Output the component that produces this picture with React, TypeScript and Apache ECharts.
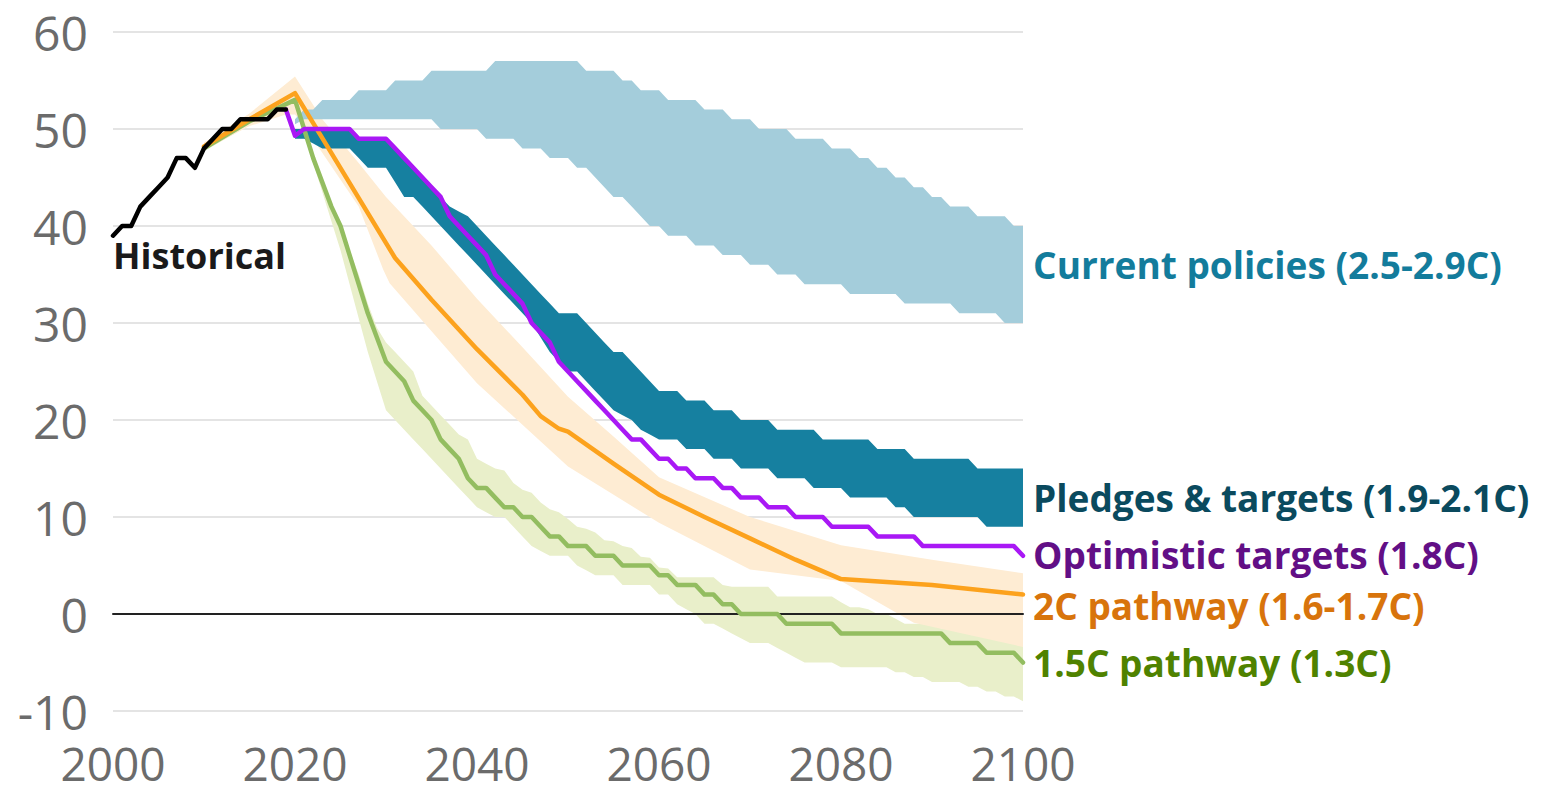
import React, { useEffect, useRef } from "react";
import * as echarts from "echarts";

// ---------- DATA ----------
const xTicks = [2000, 2020, 2040, 2060, 2080, 2100];
const yTicks = [-10, 0, 10, 20, 30, 40, 50, 60];

const historical: number[][] = [
  [2000, 39], [2001, 40], [2002, 40], [2003, 42], [2004, 43], [2005, 44], [2006, 45],
  [2007, 47], [2008, 47], [2009, 46], [2010, 48], [2011, 49], [2012, 50], [2013, 50],
  [2014, 51], [2015, 51], [2016, 51], [2017, 51], [2018, 52], [2019, 52],
];

// yearly values from 2020 to 2100
const bandStartYear = 2020;
const currentUpper = [
  51, 52, 52, 53, 53, 53, 53, 54, 54, 54, 54,
  55, 55, 55, 55, 56, 56, 56, 56, 56, 56,
  56, 57, 57, 57, 57, 57, 57, 57, 57, 57,
  57, 56, 56, 56, 56, 55, 55, 54, 54, 54,
  53, 53, 53, 53, 52, 52, 52, 51, 51, 51,
  50, 50, 50, 50, 49, 49, 49, 49, 48, 48,
  48, 47, 47, 46, 46, 45, 45, 44, 44, 43,
  43, 42, 42, 42, 41, 41, 41, 41, 40, 40,
];
const currentLower = [
  50.5, 51, 51, 51, 51, 51, 51, 51, 51, 51, 51,
  51, 51, 51, 51, 51, 50, 50, 50, 50, 50,
  49, 49, 49, 49, 48, 48, 48, 47, 47, 47,
  46, 46, 45, 44, 43, 43, 42, 41, 40, 40,
  39, 39, 39, 38, 38, 38, 37, 37, 37, 36,
  36, 36, 35, 35, 35, 34, 34, 34, 34, 34,
  33, 33, 33, 33, 33, 33, 32, 32, 32, 32,
  32, 32, 31, 31, 31, 31, 31, 30, 30, 30,
];
const pledgesUpper = [
  50, 50, 50, 50, 50, 50, 50, 49, 49, 49, 49,
  48, 47, 46, 45, 44, 43, 42, 41.5, 41, 40,
  39, 38, 37, 36, 35, 34, 33, 32, 31, 31,
  31, 30, 29, 28, 27, 27, 26, 25, 24, 23,
  23, 23, 22, 22, 22, 21, 21, 21, 20, 20,
  20, 20, 19, 19, 19, 19, 19, 18, 18, 18,
  18, 18, 18, 17, 17, 17, 17, 16, 16, 16,
  16, 16, 16, 16, 15, 15, 15, 15, 15, 15,
];
const pledgesLower = [
  49, 49, 48.5, 48, 48, 48, 48, 47, 46, 46, 46,
  44.5, 43, 43, 42, 41, 40, 39, 38, 37, 36,
  35, 34, 33, 32, 31, 30, 28.5, 27, 26, 25,
  25, 24, 23, 22, 21, 20.5, 20, 19, 18.5, 18,
  18, 18, 17, 17, 17, 16, 16, 16, 15, 15,
  15, 15, 14, 14, 14, 14, 13, 13, 13, 13,
  12, 12, 12, 12, 12, 11, 11, 10, 10, 10,
  10, 10, 10, 10, 10, 9, 9, 9, 9, 9,
];
const optimisticStartYear = 2019;
const optimistic = [
  52, 49.3, 50, 50, 50, 50, 50, 50, 49, 49, 49, 49,
  48, 47, 46, 45, 44, 43, 41, 40, 39, 38,
  37, 35, 34, 33, 32, 30, 29, 28, 26, 25,
  24, 23, 22, 21, 20, 19, 18, 18, 17, 16,
  16, 15, 15, 14, 14, 14, 13, 13, 12, 12,
  12, 11, 11, 11, 10, 10, 10, 10, 9, 9,
  9, 9, 9, 8, 8, 8, 8, 8, 7, 7,
  7, 7, 7, 7, 7, 7, 7, 7, 7, 6,
];
const pathway2C: number[][] = [
  [2010, 48.2], [2015, 51], [2020, 53.7], [2031, 36.7], [2035, 32.4], [2040, 27.3],
  [2045, 22.6], [2047, 20.4], [2049, 19.1], [2050, 18.8], [2055, 15.5], [2060, 12.3],
  [2065, 10], [2070, 7.8], [2075, 5.6], [2080, 3.6], [2090, 3.0], [2100, 2.0],
];
const pathway2CUpper: number[][] = [
  [2010, 48.6], [2015, 51.6], [2020, 55.4], [2023, 51], [2027, 46.5], [2030, 43],
  [2035, 38], [2040, 32.5], [2045, 27.5], [2050, 22.4], [2055, 18.3], [2060, 14.1],
  [2070, 10], [2080, 7.1], [2090, 5.6], [2100, 4.2],
];
const pathway2CLower: number[][] = [
  [2010, 47.8], [2015, 50.3], [2019, 51.5], [2020, 51.5], [2021, 50.3], [2027, 42],
  [2029.7, 35.5], [2030.4, 34.1], [2040, 23.8], [2050, 15.2], [2060, 9.4], [2070, 4.6],
  [2080, 3.4], [2088, -0.9], [2100, -3.4],
];
const pathway15Early: number[][] = [[2010, 48], [2015, 50.8]];
const pathway15 = [
  53, 50, 47, 44.5, 42, 40, 37, 34, 31, 28.5, 26,
  25, 24, 22, 21, 20, 18, 17, 16, 14, 13,
  13, 12, 11, 11, 10, 10, 9, 8, 8, 7,
  7, 7, 6, 6, 6, 5, 5, 5, 5, 4,
  4, 3, 3, 3, 2, 2, 1, 1, 0, 0,
  0, 0, 0, -1, -1, -1, -1, -1, -1, -2,
  -2, -2, -2, -2, -2, -2, -2, -2, -2, -2,
  -2, -3, -3, -3, -3, -4, -4, -4, -4, -5,
];
const pathway15UpperEarly: number[][] = [[2010, 48.4], [2015, 51.3]];
const pathway15Upper = [
  53.8, 50.5, 47.5, 45, 42.5, 40, 37.5, 35, 32, 29.5, 28,
  27, 26, 25, 22.5, 21.5, 20.5, 19.5, 18.5, 18, 16,
  15.5, 15, 14.8, 13.5, 12.8, 12.5, 11.5, 10.8, 10.5, 9.8,
  9, 8.8, 8.4, 7.6, 7.5, 7, 6.8, 5.9, 5.8, 4.8,
  4.7, 3.8, 3.8, 3.8, 3.8, 3.8, 3, 2.8, 2.8, 2.8,
  2.8, 2.8, 1.8, 1.8, 1.8, 1.8, 1.8, 1.8, 1.8, 1.2,
  0.7, 0.7, 0.5, 0, 0, -0.5, -1, -1, -1, -1,
  -1.5, -1.5, -1.5, -2, -2, -2, -2, -2.5, -2.5, -3,
];
const pathway15LowerEarly: number[][] = [[2010, 47.7], [2015, 50.4]];
const pathway15Lower = [
  52.5, 49.5, 46.5, 43.5, 40.5, 37.5, 34, 30.5, 27, 24, 21,
  20, 19, 18, 17, 16, 15, 14, 13, 12, 11,
  10.5, 10, 10, 9, 8, 7, 6.5, 6, 6, 6,
  5, 4.5, 4, 4, 4, 3, 3, 3, 3, 2,
  2, 1, 0.5, 0, -1, -1, -1.5, -2, -2.5, -3,
  -3, -3, -3.5, -4, -4.5, -5, -5, -5, -5, -5.5,
  -5.5, -5.5, -5.5, -5.5, -5.5, -6, -6, -6.5, -6.5, -7,
  -7, -7, -7, -7.5, -7.5, -8, -8, -8.5, -8.5, -9,
];

const seriesLabels = [
  { name: "Current policies (2.5-2.9C)", value: [2100, 36], color: "#137c9c" },
  { name: "Pledges & targets (1.9-2.1C)", value: [2100, 12], color: "#0a4a5e" },
  { name: "Optimistic targets (1.8C)", value: [2100, 6.1], color: "#620f86" },
  { name: "2C pathway (1.6-1.7C)", value: [2100, 0.9], color: "#d8740c" },
  { name: "1.5C pathway (1.3C)", value: [2100, -5], color: "#4f8200" },
];
const historicalLabel = { name: "Historical", value: [2000, 37], color: "#1a1a1a" };

// ---------- helpers ----------
const yearly = (start: number, vals: number[]) => vals.map((v, i) => [start + i, v]);

const FONT = "'Open Sans', 'Noto Sans', sans-serif";

function bandSeries(name: string, upper: number[][], lower: number[][], fill: string, z: number) {
  return {
    name,
    type: "custom",
    z,
    silent: true,
    clip: false,
    data: [[2050, 0]],
    encode: { x: 0, y: 1 },
    renderItem: (_params: any, api: any) => {
      const pts = upper
        .map((d) => api.coord(d))
        .concat(lower.slice().reverse().map((d) => api.coord(d)));
      return { type: "polygon", shape: { points: pts }, style: { fill } };
    },
  };
}

function lineSeries(name: string, data: number[][], color: string, width: number, z: number) {
  return {
    name,
    type: "line",
    z,
    data,
    symbol: "none",
    silent: true,
    lineStyle: { color, width, join: "round", cap: "round" },
  };
}

export default function App() {
  const ref = useRef<HTMLDivElement>(null);
  useEffect(() => {
    if (!ref.current) return;
    const chart = echarts.init(ref.current, undefined, { renderer: "svg" });

    const curU = yearly(bandStartYear, currentUpper);
    const curL = yearly(bandStartYear, currentLower);
    const plU = yearly(bandStartYear, pledgesUpper);
    const plL = yearly(bandStartYear, pledgesLower);
    const g15 = pathway15Early.concat(yearly(bandStartYear, pathway15));
    const g15U = pathway15UpperEarly.concat(yearly(bandStartYear, pathway15Upper));
    const g15L = pathway15LowerEarly.concat(yearly(bandStartYear, pathway15Lower));
    const opt = yearly(optimisticStartYear, optimistic);

    const labelData: any[] = seriesLabels.map((l) => ({
      name: l.name,
      value: l.value,
      label: { color: l.color },
    }));
    labelData.push({
      name: historicalLabel.name,
      value: historicalLabel.value,
      label: { color: historicalLabel.color, distance: 0, fontSize: 36 },
    });

    chart.setOption({
      animation: false,
      textStyle: { fontFamily: FONT },
      grid: { left: 113, right: 519, top: 32, bottom: 84 },
      xAxis: {
        type: "value",
        min: xTicks[0],
        max: xTicks[xTicks.length - 1],
        interval: 20,
        axisLine: { show: false },
        axisTick: { show: false },
        splitLine: { show: false },
        axisLabel: {
          fontSize: 46,
          color: "#6b6b6b",
          margin: 29,
          fontFamily: FONT,
          formatter: (v: number) => String(v),
        },
      },
      yAxis: {
        type: "value",
        min: yTicks[0],
        max: yTicks[yTicks.length - 1],
        interval: 10,
        axisLine: { show: false },
        axisTick: { show: false },
        splitLine: { lineStyle: { color: "#e4e4e4", width: 2 } },
        axisLabel: { fontSize: 48, color: "#6b6b6b", margin: 25, fontFamily: FONT },
      },
      series: [
        bandSeries("1.5C range", g15U, g15L, "#e9efca", 1),
        bandSeries("2C range", pathway2CUpper, pathway2CLower, "#feecd3", 2),
        bandSeries("Current policies", curU, curL, "#a4cddb", 3),
        bandSeries("Pledges & targets", plU, plL, "#1680a0", 4),
        lineSeries("zero", [[2000, 0], [2100, 0]], "#222222", 2, 5),
        lineSeries("1.5C pathway", g15, "#93bd60", 4.5, 6),
        lineSeries("2C pathway", pathway2C, "#fca21d", 4.5, 7),
        lineSeries("Optimistic targets", opt, "#a918f5", 4.5, 8),
        lineSeries("Historical", historical, "#000000", 4.5, 9),
        {
          name: "labels",
          type: "scatter",
          z: 10,
          silent: true,
          symbolSize: 0.1,
          itemStyle: { color: "#ffffff", opacity: 1 },
          label: {
            show: true,
            position: "right",
            distance: 10,
            formatter: "{b}",
            fontSize: 37,
            fontWeight: "bold",
            fontFamily: FONT,
            opacity: 1,
          },
          data: labelData,
        },
      ],
    });
    return () => chart.dispose();
  }, []);

  return (
    <div
      ref={ref}
      style={{ position: "fixed", left: 0, top: 0, width: 1542, height: 795, background: "#fff" }}
    />
  );
}
